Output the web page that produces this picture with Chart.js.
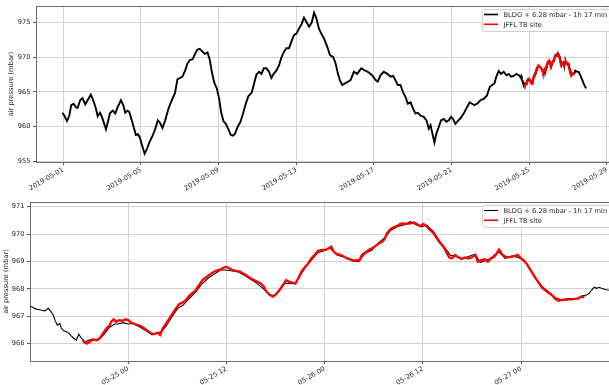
<!DOCTYPE html>
<html>
<head>
<meta charset="utf-8">
<script src="https://cdn.jsdelivr.net/npm/chart.js@4/dist/chart.umd.min.js"></script>
<style>
  html, body { margin: 0; padding: 0; background: #fff; width: 609px; height: 385px; overflow: hidden; }
  canvas { position: absolute; left: 0; }
  #overview { top: 0; }
  #detail { top: 195px; }
</style>
</head>
<body>
<canvas id="overview" width="613" height="195"></canvas>
<canvas id="detail" width="613" height="190"></canvas>
<script>
// Time axis: days since 2019-05-01 00:00. Values: air pressure in mbar.

// BLDG sensor (offset +6.28 mbar, shifted -1h 17 min), May 1 - May 24 midday
const bldgEarly = [
  [-0.054,962.0],[0.05,961.6],[0.19,960.8],[0.31,961.6],[0.41,963.1],[0.53,963.3],[0.65,962.8],[0.74,962.7],
  [0.87,963.8],[0.99,964.1],[1.13,963.2],[1.25,963.8],[1.42,964.6],[1.54,963.8],[1.68,962.6],[1.77,961.5],
  [1.89,962.0],[1.99,961.4],[2.11,960.4],[2.2,959.6],[2.3,960.7],[2.4,961.9],[2.54,962.3],[2.68,961.9],
  [2.8,962.8],[2.97,963.8],[3.09,963.1],[3.19,962.0],[3.31,962.3],[3.4,962.1],[3.53,960.9],[3.65,959.7],
  [3.74,958.8],[3.84,958.9],[3.95,958.4],[4.05,957.4],[4.19,956.1],[4.31,956.8],[4.43,957.7],[4.6,958.7],
  [4.73,959.6],[4.87,960.9],[4.97,960.6],[5.11,959.8],[5.25,960.9],[5.42,962.6],[5.59,963.8],[5.76,964.9],
  [5.88,966.8],[6.0,967.0],[6.14,967.2],[6.28,968.1],[6.4,969.1],[6.52,969.6],[6.66,969.7],[6.79,970.5],
  [6.91,971.1],[7.03,971.2],[7.17,970.8],[7.29,970.5],[7.43,970.7],[7.55,969.6],[7.65,967.9],[7.77,966.4],
  [7.91,965.5],[8.03,964.0],[8.13,962.1],[8.25,960.8],[8.37,960.4],[8.51,959.6],[8.63,958.8],[8.75,958.7],
  [8.85,959.0],[8.97,959.9],[9.13,960.7],[9.26,961.9],[9.4,963.3],[9.54,964.4],[9.71,964.9],[9.83,966.2],
  [9.95,967.5],[10.09,967.9],[10.21,967.6],[10.33,968.4],[10.46,968.4],[10.6,967.9],[10.72,967.0],[10.84,967.6],
  [10.98,968.1],[11.11,968.8],[11.23,969.9],[11.37,970.8],[11.49,971.3],[11.63,971.3],[11.77,972.4],[11.89,973.2],
  [12.01,973.4],[12.14,974.1],[12.28,974.8],[12.4,975.7],[12.52,975.1],[12.66,974.4],[12.8,975.0],[12.92,976.4],
  [13.04,975.6],[13.17,974.1],[13.31,973.3],[13.43,972.7],[13.6,971.5],[13.74,970.3],[13.91,970.0],[14.03,969.1],
  [14.15,967.6],[14.25,966.7],[14.37,966.0],[14.49,966.2],[14.63,966.4],[14.8,966.7],[14.97,967.9],[15.14,967.6],
  [15.35,968.4],[15.52,968.1],[15.69,967.9],[15.91,967.4],[16.09,966.7],[16.2,966.5],[16.34,967.4],[16.51,967.9],
  [16.69,967.6],[16.86,967.2],[16.99,967.3],[17.11,966.7],[17.23,966.0],[17.37,966.0],[17.51,964.9],[17.63,964.3],
  [17.75,963.3],[17.89,963.5],[18.02,962.6],[18.14,961.9],[18.26,962.0],[18.4,961.6],[18.57,961.4],[18.71,960.9],
  [18.83,959.7],[18.92,960.2],[19.0,959.2],[19.12,957.7],[19.22,959.0],[19.34,959.9],[19.46,960.9],[19.6,961.1],
  [19.74,960.7],[19.86,960.9],[19.98,961.4],[20.08,961.1],[20.2,960.4],[20.32,960.8],[20.46,961.2],[20.63,961.9],
  [20.8,962.8],[20.94,963.5],[21.06,963.3],[21.18,963.1],[21.32,963.3],[21.49,963.8],[21.66,964.0],[21.83,964.5],
  [21.97,965.7],[22.09,966.0],[22.21,966.2],[22.31,967.2],[22.43,968.0],[22.55,967.6],[22.69,967.9],[22.83,967.4],
  [22.95,967.6],[23.07,967.2],[23.2,967.3],[23.34,967.6],[23.46,967.4]
];

// BLDG sensor, May 24 midday - May 28
const bldgLate = [
  [23.5,967.37],[23.514,967.33],[23.525,967.28],[23.542,967.25],[23.559,967.22],[23.576,967.2],[23.593,967.29],
  [23.605,967.19],[23.618,967.05],[23.627,966.86],[23.639,966.68],[23.652,966.74],[23.66,966.56],[23.672,966.47],
  [23.686,966.44],[23.699,966.38],[23.711,966.28],[23.723,966.2],[23.736,966.13],[23.748,966.35],[23.762,966.2],
  [23.779,966.07],[23.812,966.16],[23.846,966.13],[23.875,966.32],[23.905,966.6],[23.931,966.72],[23.948,966.72],
  [23.973,966.77],[24.0,966.72],[24.024,966.74],[24.057,966.62],[24.091,966.47],[24.122,966.32],[24.142,966.38],
  [24.167,966.44],[24.193,966.64],[24.223,966.99],[24.252,967.29],[24.28,967.41],[24.311,967.65],[24.345,967.9],
  [24.37,968.14],[24.404,968.38],[24.438,968.54],[24.471,968.69],[24.497,968.69],[24.522,968.66],[24.556,968.63],
  [24.598,968.47],[24.635,968.3],[24.666,968.14],[24.691,967.98],[24.716,967.81],[24.741,967.74],[24.767,967.9],
  [24.797,968.2],[24.826,968.2],[24.851,968.18],[24.877,968.51],[24.905,968.81],[24.936,969.08],[24.966,969.32],
  [24.995,969.39],[25.029,969.48],[25.063,969.24],[25.105,969.15],[25.139,969.03],[25.173,968.99],[25.207,969.3],
  [25.241,969.42],[25.275,969.69],[25.308,969.88],[25.334,970.12],[25.368,970.27],[25.402,970.33],[25.436,970.45],
  [25.469,970.33],[25.495,970.27],[25.52,970.33],[25.554,970.09],[25.588,969.72],[25.614,969.48],[25.639,969.24],
  [25.668,969.18],[25.698,969.08],[25.732,969.18],[25.766,969.27],[25.792,968.96],[25.825,969.05],[25.851,969.15],
  [25.885,969.36],[25.919,969.11],[25.953,969.2],[25.986,969.15],[26.02,968.99],[26.051,968.66],[26.08,968.35],
  [26.105,968.1],[26.139,967.9],[26.173,967.69],[26.203,967.6],[26.241,967.65],[26.275,967.62],[26.308,967.74],
  [26.334,967.78],[26.346,967.84],[26.359,967.96],[26.373,968.06],[26.385,968.02],[26.397,968.06],[26.41,968.02],
  [26.427,967.98],[26.444,967.96],[26.55,967.9],[26.67,967.2],[26.81,966.2],[26.93,965.5]
];

// JFFL TB site
const jffl = [
  [23.767,966.13],[23.779,966.04],[23.791,966.01],[23.804,966.07],[23.821,966.16],[23.838,966.13],[23.855,966.2],
  [23.872,966.38],[23.889,966.56],[23.902,966.64],[23.914,966.8],[23.926,966.89],[23.939,966.8],[23.953,966.86],
  [23.97,966.84],[23.986,966.89],[24.0,966.86],[24.015,966.77],[24.032,966.72],[24.049,966.68],[24.066,966.64],
  [24.083,966.56],[24.1,966.47],[24.117,966.38],[24.133,966.35],[24.15,966.4],[24.162,966.32],[24.176,966.56],
  [24.193,966.74],[24.209,966.92],[24.226,967.11],[24.243,967.29],[24.26,967.45],[24.277,967.5],[24.294,967.6],
  [24.307,967.72],[24.324,967.84],[24.341,967.93],[24.353,968.06],[24.365,968.18],[24.378,968.32],[24.395,968.42],
  [24.412,968.51],[24.429,968.59],[24.446,968.66],[24.463,968.69],[24.48,968.75],[24.497,968.81],[24.514,968.75],
  [24.53,968.69],[24.547,968.66],[24.568,968.63],[24.59,968.54],[24.606,968.47],[24.623,968.38],[24.64,968.32],
  [24.657,968.26],[24.674,968.2],[24.691,968.08],[24.703,967.9],[24.72,967.78],[24.736,967.72],[24.753,967.81],
  [24.77,967.96],[24.787,968.14],[24.804,968.32],[24.818,968.26],[24.834,968.23],[24.851,968.2],[24.865,968.38],
  [24.882,968.63],[24.899,968.79],[24.916,968.93],[24.932,969.11],[24.949,969.24],[24.966,969.39],[24.986,969.42],
  [25.003,969.42],[25.02,969.48],[25.034,969.54],[25.046,969.36],[25.063,969.27],[25.08,969.24],[25.097,969.18],
  [25.114,969.11],[25.131,969.08],[25.147,969.03],[25.164,969.05],[25.176,969.03],[25.19,969.24],[25.207,969.32],
  [25.224,969.42],[25.241,969.48],[25.258,969.56],[25.275,969.66],[25.292,969.72],[25.305,969.81],[25.317,970.03],
  [25.334,970.17],[25.351,970.25],[25.368,970.29],[25.385,970.37],[25.402,970.39],[25.419,970.37],[25.436,970.39],
  [25.453,970.42],[25.469,970.37],[25.486,970.29],[25.503,970.37],[25.52,970.27],[25.537,970.15],[25.554,970.03],
  [25.571,969.84],[25.583,969.72],[25.597,969.6],[25.61,969.48],[25.622,969.3],[25.634,969.15],[25.647,969.11],
  [25.664,969.24],[25.681,969.15],[25.698,969.11],[25.715,969.15],[25.732,969.11],[25.749,969.15],[25.766,969.24],
  [25.78,968.99],[25.797,969.05],[25.814,969.08],[25.831,968.99],[25.847,969.11],[25.864,969.18],[25.876,969.3],
  [25.888,969.44],[25.902,969.27],[25.919,969.18],[25.936,969.15],[25.953,969.18],[25.969,969.2],[25.983,969.24],
  [26.0,969.11],[26.012,969.05],[26.029,968.91],[26.046,968.71],[26.063,968.51],[26.08,968.32],[26.092,968.2],
  [26.105,968.06],[26.122,967.96],[26.139,967.86],[26.156,967.78],[26.173,967.65],[26.19,967.57],[26.207,967.6],
  [26.224,967.6],[26.241,967.62],[26.258,967.62],[26.275,967.64],[26.292,967.65],[26.308,967.72],[26.322,967.69]
];

// Tick positions and labels
const overviewTickDays = [0, 4, 8, 12, 16, 20, 24, 28];
const overviewTickLabels = ['2019-05-01', '2019-05-05', '2019-05-09', '2019-05-13',
                            '2019-05-17', '2019-05-21', '2019-05-25', '2019-05-29'];
const detailTickDays = [24, 24.5, 25, 25.5, 26];
const detailTickLabels = ['05-25 00', '05-25 12', '05-26 00', '05-26 12', '05-27 00'];
const overviewPressureTicks = [955, 960, 965, 970, 975];
const detailPressureTicks = [966, 967, 968, 969, 970, 971];

const bldgLabel = 'BLDG + 6.28 mbar - 1h 17 min';
const jfflLabel = 'JFFL TB site';

const FONT = 'DejaVu Sans';
const TEXT = '#262626';
Chart.defaults.font.family = FONT;

const toPoints = pairs => pairs.map(([x, y]) => ({ x, y }));

// legend box inside the upper right corner plus the top frame line
const frameAndLegend = {
  id: 'frameAndLegend',
  afterDraw(chart) {
    const { ctx, chartArea: a } = chart;
    ctx.save();
    ctx.strokeStyle = '#6e6e6e';
    ctx.lineWidth = 1;
    ctx.beginPath();
    ctx.moveTo(a.left, Math.round(a.top) + 0.5);
    ctx.lineTo(a.right, Math.round(a.top) + 0.5);
    ctx.stroke();

    const x = Math.round(a.right - 131) + 0.5;
    const y = Math.round(a.top + 3) + 0.5;
    ctx.beginPath();
    ctx.roundRect(x, y, 150, 22, 2);
    ctx.fillStyle = 'rgba(255,255,255,0.85)';
    ctx.fill();
    ctx.strokeStyle = '#d0d0d0';
    ctx.stroke();

    ctx.font = '6.7px "' + FONT + '"';
    ctx.textBaseline = 'middle';
    ctx.textAlign = 'left';
    chart.data.datasets.forEach((ds, i) => {
      const ly = y + 5 + i * 9.8;
      ctx.beginPath();
      ctx.moveTo(x + 1.5, ly);
      ctx.lineTo(x + 15.5, ly);
      ctx.strokeStyle = ds.borderColor;
      ctx.lineWidth = Math.min(ds.borderWidth, 1.6);
      ctx.stroke();
      ctx.fillStyle = TEXT;
      ctx.fillText(ds.label, x + 21, ly + 0.5);
    });
    ctx.restore();
  }
};

function buildChart(id, cfg) {
  return new Chart(document.getElementById(id), {
    type: 'line',
    data: {
      datasets: [
        { label: bldgLabel, data: toPoints(bldgEarly.concat(bldgLate)), borderColor: '#000000',
          borderWidth: cfg.bldgWidth, pointRadius: 0, tension: 0, order: 1 },
        { label: jfflLabel, data: toPoints(jffl), borderColor: '#ff0000',
          borderWidth: cfg.jfflWidth, pointRadius: 0, tension: 0, order: 0 }
      ]
    },
    options: {
      responsive: false,
      animation: false,
      devicePixelRatio: 1,
      parsing: false,
      layout: { padding: { top: cfg.top, left: 0, right: 0, bottom: 0 } },
      plugins: { legend: { display: false }, tooltip: { enabled: false } },
      scales: {
        x: {
          type: 'linear',
          min: cfg.xMin,
          max: cfg.xMax,
          afterBuildTicks: s => { s.ticks = cfg.xTicks.map(v => ({ value: v })); },
          afterFit: s => { s.height = cfg.xHeight; s.paddingLeft = 0; s.paddingRight = 0; },
          ticks: {
            autoSkip: false, minRotation: 30, maxRotation: 30, padding: 1,
            color: TEXT, font: { size: 6.7 },
            callback: (v, i) => cfg.xLabels[i]
          },
          grid: { color: '#d2d2d2', lineWidth: 1, tickLength: 3, tickColor: '#555' },
          border: { color: '#6e6e6e', width: 1 }
        },
        y: {
          type: 'linear',
          min: cfg.yMin,
          max: cfg.yMax,
          afterBuildTicks: s => { s.ticks = cfg.yTicks.map(v => ({ value: v })); },
          afterFit: s => { s.width = cfg.yWidth; s.paddingTop = 0; s.paddingBottom = 0; },
          ticks: { padding: 2.5, color: TEXT, font: { size: 6.7 }, callback: v => String(v) },
          grid: { color: '#d2d2d2', lineWidth: 1, tickLength: 3, tickColor: '#555' },
          border: { color: '#6e6e6e', width: 1 },
          title: {
            display: true, text: 'air pressure (mbar)', color: TEXT,
            font: { size: 6.7 }, padding: { top: cfg.titlePad, bottom: 0 }
          }
        }
      }
    },
    plugins: [frameAndLegend]
  });
}

buildChart('overview', {
  top: 6, xHeight: 33, yWidth: 36, titlePad: 7.5,
  xMin: -1.406, xMax: 28.32, yMin: 954.9, yMax: 977.38,
  xTicks: overviewTickDays, xLabels: overviewTickLabels, yTicks: overviewPressureTicks,
  bldgWidth: 1.9, jfflWidth: 2.0
});

buildChart('detail', {
  top: 7, xHeight: 24, yWidth: 30, titlePad: 2,
  xMin: 23.5, xMax: 26.468, yMin: 965.37, yMax: 971.17,
  xTicks: detailTickDays, xLabels: detailTickLabels, yTicks: detailPressureTicks,
  bldgWidth: 1.1, jfflWidth: 2.3
});
</script>
</body>
</html>
